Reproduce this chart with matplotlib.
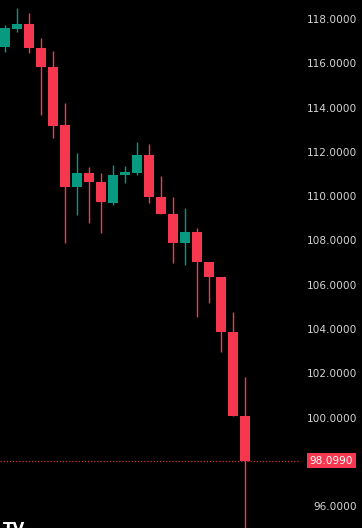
import numpy as np
import matplotlib
matplotlib.use('Agg')
import matplotlib.pyplot as plt
import matplotlib.transforms as mtransforms

# candle data
opens = [116.78, 117.59, 117.82, 116.74, 115.88, 113.26, 110.46, 111.09, 110.69, 109.74, 111.00,
         111.09, 111.90, 110.00, 109.24, 107.93, 108.43, 107.07, 106.40, 103.91, 100.12]
highs = [117.77, 118.54, 118.32, 117.19, 116.60, 114.25, 112.00, 111.36, 111.09, 111.45, 111.41,
         112.49, 112.40, 110.96, 110.00, 109.51, 108.61, 107.07, 106.40, 104.82, 101.88]
lows = [116.56, 117.45, 116.51, 113.71, 112.67, 107.93, 109.20, 108.84, 108.38, 109.65, 110.64,
        111.00, 109.74, 109.24, 107.03, 106.94, 104.59, 105.22, 103.00, 100.12, 94.50]
closes = [117.64, 117.82, 116.74, 115.88, 113.21, 110.46, 111.09, 110.69, 109.78, 111.00, 111.14,
          111.90, 110.00, 109.24, 107.93, 108.43, 107.07, 106.40, 103.91, 100.12, 98.099]
last_price = 98.099
tick_values = [118, 116, 114, 112, 110, 108, 106, 104, 102, 100, 96]

up_col = '#089981'
down_col = '#f5374f'

fig = plt.figure(figsize=(3.62, 5.28), dpi=100, facecolor='black')
ax = fig.add_axes([0, 0, 1, 1])
ax.set_facecolor('black')

x = np.arange(len(opens))
for i in x:
    o, h, l, c = opens[i], highs[i], lows[i], closes[i]
    col = up_col if c >= o else down_col
    ax.vlines(i, l, h, color=col, linewidth=1.0, zorder=2)
    ax.bar(i, max(abs(c - o), 0.06), bottom=min(o, c), width=0.78, color=col,
           linewidth=0, zorder=3)

# last price line and label
ax.axhline(last_price, xmax=0.83, color=down_col, linestyle=(0, (1, 1.5)), linewidth=0.9,
           alpha=0.85, zorder=1)

trans = mtransforms.blended_transform_factory(ax.transAxes, ax.transData)
for v in tick_values:
    ax.text(0.987, v, f'{v:.4f}', transform=trans, ha='right', va='center',
            color='#d4d4d4', fontsize=7.6)
ax.text(0.976, last_price, f'{last_price:.4f}', transform=trans, ha='right', va='center',
        color='white', fontsize=7.6,
        bbox=dict(boxstyle='square,pad=0.25', facecolor=down_col, edgecolor='none'))

# logo, only its top shows at the bottom edge
ax.text(0.008, 0.012, 'TV', transform=ax.transAxes, ha='left', va='top',
        color='white', fontsize=11, fontweight='bold')

ax.set_xlim(-0.417, 29.75)
ax.set_ylim(95.065, 118.903)
ax.axis('off')

fig.savefig('out.png', dpi=100, facecolor='black')
